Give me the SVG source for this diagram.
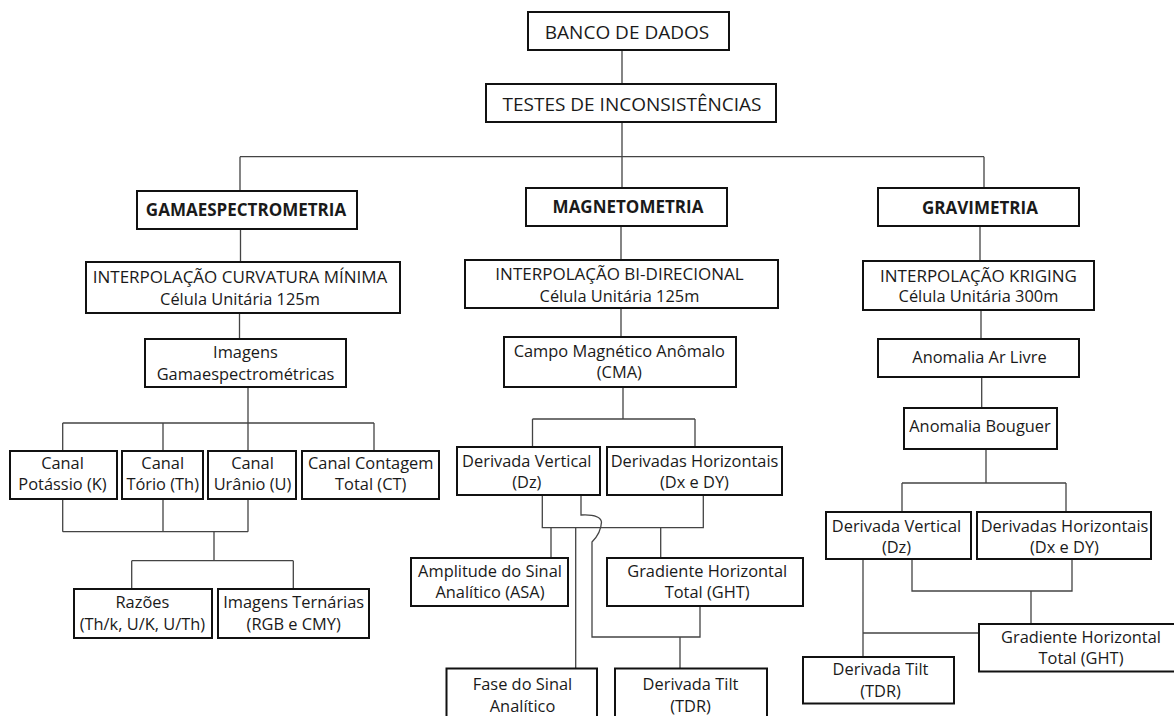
<svg xmlns="http://www.w3.org/2000/svg" width="1174" height="716" viewBox="0 0 1174 716">
<style>
.b{fill:#fff;stroke:#111;stroke-width:2}
.t{font-family:"Open Sans","Noto Sans","DejaVu Sans",sans-serif;font-size:16.4px;fill:#1a1a1a;text-anchor:middle}
.c{font-size:19px}
.i{font-size:17px}
.h{font-size:17px;font-weight:bold}
.l{fill:none;stroke:#444;stroke-width:1.3}
</style>
<rect width="1174" height="716" fill="#fff"/>
<g id="connectors" class="l">
<path d="M622,50V84M622,122V156.7M240,156.7H984M240,156.7V191M622,156.7V188M984,156.7V188"/>
<path d="M240.5,229V262M239.5,313V339M248,387V423M62.7,423H374M62.7,423V451M163,423V451M248,423V451M374,423V451"/>
<path d="M62.7,499V531.7M163,499V531.7M248,499V531.7M62.7,531.7H248M214,531.7V560.7M131.7,560.7H293.3M131.7,560.7V589M293.3,560.7V589"/>
<path d="M621,226V260M621,308V337M623,387V419M532.5,419H695M532.5,419V447M695,419V447"/>
<path d="M542.3,495V527.7H703.3V495M551,527.7V558M575.7,527.7V668M660.7,527.7V558"/>
<path d="M581,495V515Q600,514 601.5,522Q601,533 592,542V637H700V606M680,637V668"/>
<path d="M980,226V261M981,310V339M981.7,377V408M986,449V483M902,483H1066M902,483V512M1066,483V512"/>
<path d="M912,559V591H1072V559M1031,591V624M863,559V657M863,633H979"/>
</g>
<g id="banco"><rect class="b" x="528" y="12" width="201" height="38"/><text class="t c" x="627" y="38.5">BANCO DE DADOS</text></g>
<g id="testes"><rect class="b" x="486" y="84" width="290" height="38"/><text class="t c" x="632" y="111">TESTES DE INCONSISTÊNCIAS</text></g>
<g id="gama"><rect class="b" x="137" y="191" width="220" height="38"/><text class="t h" x="246" y="215.5">GAMAESPECTROMETRIA</text></g>
<g id="interp-cm"><rect class="b" x="86" y="262" width="314" height="51"/><text class="t i" x="240" y="282.8">INTERPOLAÇÃO CURVATURA MÍNIMA</text><text class="t" x="240" y="304.8">Célula Unitária 125m</text></g>
<g id="imagens-gama"><rect class="b" x="145" y="339" width="201" height="48"/><text class="t" x="245.5" y="358.3">Imagens</text><text class="t" x="245.5" y="380">Gamaespectrométricas</text></g>
<g id="canal-k"><rect class="b" x="10" y="451" width="107" height="48"/><text class="t" x="62.5" y="469.3">Canal</text><text class="t" x="62.5" y="490">Potássio (K)</text></g>
<g id="canal-th"><rect class="b" x="122" y="451" width="81" height="48"/><text class="t" x="162.7" y="469.3">Canal</text><text class="t" x="162.7" y="490">Tório (Th)</text></g>
<g id="canal-u"><rect class="b" x="208" y="451" width="88" height="48"/><text class="t" x="252.5" y="469.3">Canal</text><text class="t" x="252.5" y="490">Urânio (U)</text></g>
<g id="canal-ct"><rect class="b" x="302" y="451" width="137" height="48"/><text class="t" x="370.7" y="469.3">Canal Contagem</text><text class="t" x="370.7" y="490">Total (CT)</text></g>
<g id="razoes"><rect class="b" x="74" y="589" width="138" height="49"/><text class="t" x="142.4" y="608.3">Razões</text><text class="t" x="142.4" y="630">(Th/k, U/K, U/Th)</text></g>
<g id="ternarias"><rect class="b" x="218" y="589" width="151" height="49"/><text class="t" x="293.7" y="608.3">Imagens Ternárias</text><text class="t" x="293.7" y="630">(RGB e CMY)</text></g>
<g id="magneto"><rect class="b" x="526" y="188" width="201" height="38"/><text class="t h" x="628" y="213.3">MAGNETOMETRIA</text></g>
<g id="interp-bi"><rect class="b" x="465" y="260" width="313" height="48"/><text class="t i" x="619.5" y="279.8">INTERPOLAÇÃO BI-DIRECIONAL</text><text class="t" x="619.5" y="301.8">Célula Unitária 125m</text></g>
<g id="cma"><rect class="b" x="504" y="337" width="232" height="50"/><text class="t" x="619.3" y="357.3">Campo Magnético Anômalo</text><text class="t" x="619.3" y="378.3">(CMA)</text></g>
<g id="dz-mag"><rect class="b" x="457" y="447" width="143" height="48"/><text class="t" x="526.8" y="466.7">Derivada Vertical</text><text class="t" x="526.8" y="488.3">(Dz)</text></g>
<g id="dxdy-mag"><rect class="b" x="607" y="447" width="175" height="48"/><text class="t" x="694.5" y="466.7">Derivadas Horizontais</text><text class="t" x="694.5" y="488.3">(Dx e DY)</text></g>
<g id="asa"><rect class="b" x="411" y="558" width="157" height="48"/><text class="t" x="490" y="576.7">Amplitude do Sinal</text><text class="t" x="490" y="598.3">Analítico (ASA)</text></g>
<g id="ght-mag"><rect class="b" x="607" y="558" width="196" height="48"/><text class="t" x="707.2" y="576.7">Gradiente Horizontal</text><text class="t" x="707.2" y="598.3">Total (GHT)</text></g>
<g id="fase"><rect class="b" x="446.5" y="668.5" width="150.5" height="60"/><text class="t" x="522.5" y="690">Fase do Sinal</text><text class="t" x="522.5" y="711.5">Analítico</text></g>
<g id="tdr-mag"><rect class="b" x="615" y="668.5" width="152" height="60"/><text class="t" x="690.5" y="690">Derivada Tilt</text><text class="t" x="690.5" y="711.5">(TDR)</text></g>
<g id="gravi"><rect class="b" x="878" y="188" width="201" height="38"/><text class="t h" x="980" y="214">GRAVIMETRIA</text></g>
<g id="interp-kr"><rect class="b" x="863" y="261" width="231" height="49"/><text class="t i" x="978.5" y="281.5">INTERPOLAÇÃO KRIGING</text><text class="t" x="978.5" y="302.2">Célula Unitária 300m</text></g>
<g id="ar-livre"><rect class="b" x="878" y="339" width="201" height="38"/><text class="t" x="979.5" y="362.7">Anomalia Ar Livre</text></g>
<g id="bouguer"><rect class="b" x="904" y="408" width="153" height="41"/><text class="t" x="980" y="431.7">Anomalia Bouguer</text></g>
<g id="dz-grav"><rect class="b" x="826" y="512" width="145" height="47"/><text class="t" x="896.5" y="531.7">Derivada Vertical</text><text class="t" x="896.5" y="553.3">(Dz)</text></g>
<g id="dxdy-grav"><rect class="b" x="977" y="512" width="174" height="47"/><text class="t" x="1064.5" y="531.7">Derivadas Horizontais</text><text class="t" x="1064.5" y="553.3">(Dx e DY)</text></g>
<g id="ght-grav"><rect class="b" x="979" y="624" width="200" height="47.5"/><text class="t" x="1081" y="642.7">Gradiente Horizontal</text><text class="t" x="1081" y="664">Total (GHT)</text></g>
<g id="tdr-grav"><rect class="b" x="803" y="657" width="151" height="46.5"/><text class="t" x="880.5" y="675">Derivada Tilt</text><text class="t" x="880.5" y="696.7">(TDR)</text></g>
</svg>
